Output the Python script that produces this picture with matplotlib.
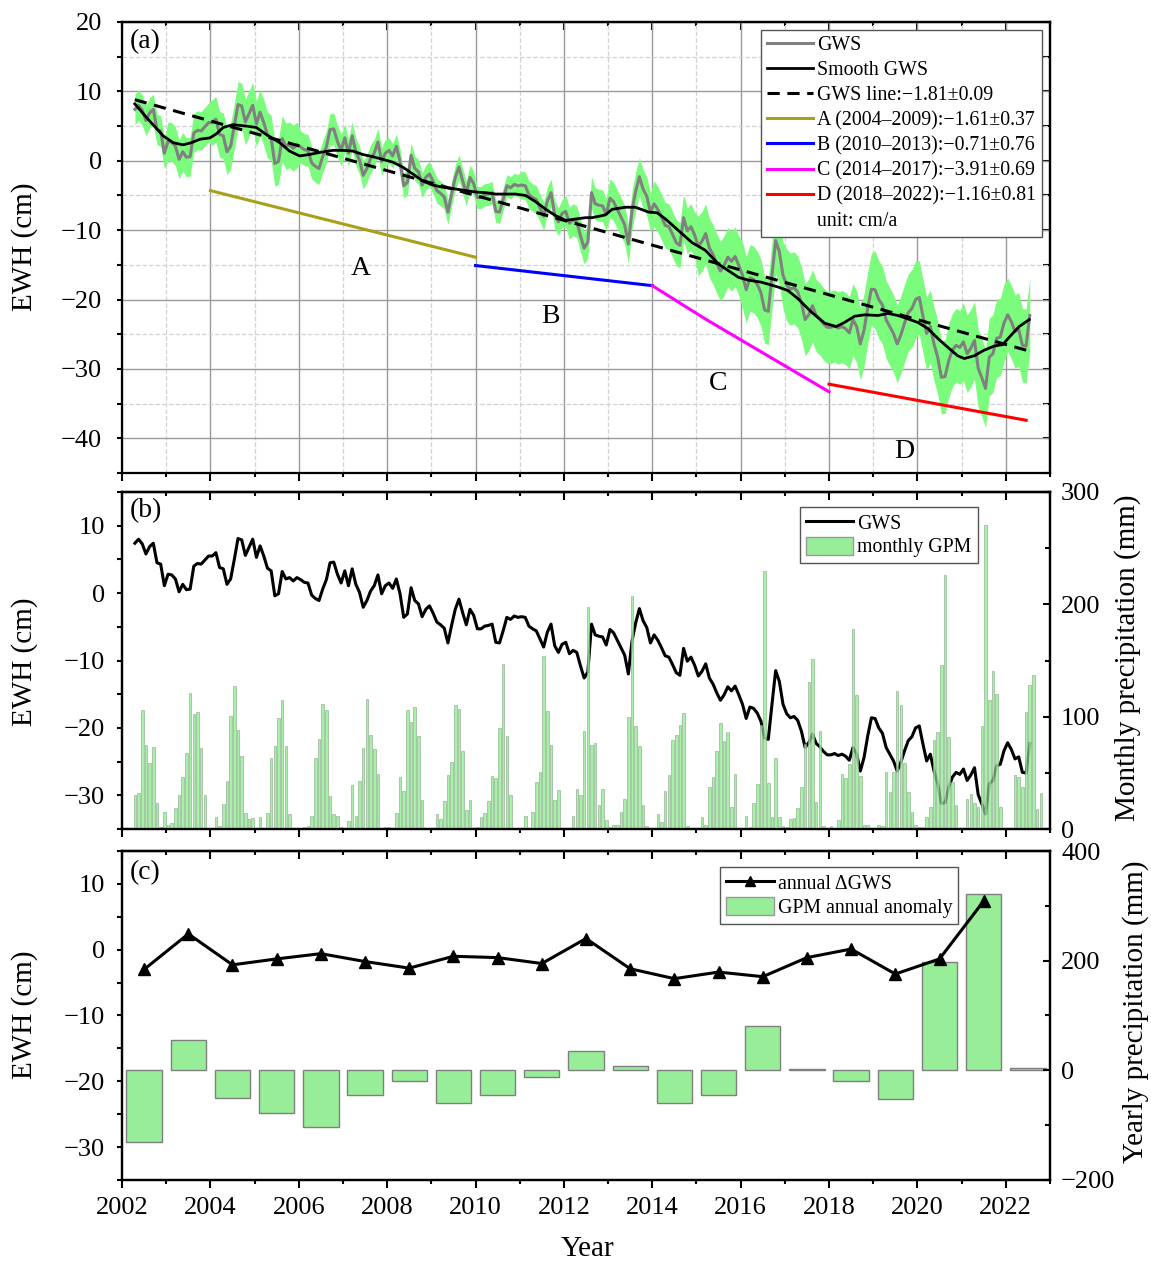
import numpy as np
import matplotlib
matplotlib.use("Agg")
import matplotlib.pyplot as plt
from matplotlib.lines import Line2D
from matplotlib.patches import Patch
from matplotlib.ticker import MultipleLocator

plt.rcParams["font.family"] = ["Liberation Serif", "DejaVu Serif"]

# ---------------- data ----------------
# monthly GWS (cm), starting mid-April 2002, one value per month
gws_start = 2002 + 3.5 / 12
gws = [
    7.4, 8.0, 7.3, 5.8, 6.9, 7.4, 4.5, 4.3, 1.1, 2.8,
    2.7, 2.1, 0.2, 1.3, 0.5, 0.6, 4.0, 4.4, 4.3, 4.9,
    5.5, 5.5, 6.0, 3.8, 3.6, 1.3, 2.1, 5.0, 8.1, 7.9,
    5.6, 6.8, 8.0, 5.3, 7.0, 5.5, 3.7, 3.3, -0.4, -0.1,
    3.2, 2.1, 2.3, 1.8, 2.3, 2.0, 1.6, 1.5, -0.3, -0.8, -1.1,
    0.6, 2.0, 4.5, 4.6, 2.8, 1.5, 3.3, 1.1, 3.6, 1.3,
    0.1, -2.1, -1.1, 0.3, 1.1, 2.7, -0.1, 1.1, 1.5, 0.7,
    2.1, -0.1, -3.6, -3.1, 0.8, -1.1, -1.6, -3.5, -2.4, -1.9,
    -3.0, -4.3, -4.7, -5.2, -7.4, -4.8, -2.4, -0.9, -2.9, -4.7,
    -2.4, -3.3, -5.3, -5.3, -4.9, -4.8, -4.6, -7.3, -7.4, -5.6, -3.6,
    -3.9, -3.4, -3.6, -3.5, -3.6, -4.9, -5.3, -5.6, -6.8, -8.0,
    -5.8, -4.6, -7.8, -8.8, -7.6, -7.3, -9.0, -8.5, -8.8, -10.8, -12.6, -11.7,
    -4.6, -6.2, -6.4, -6.5, -7.7, -5.4, -5.9, -7.0, -8.1, -9.2,
    -12.0, -7.1, -4.4, -2.3, -4.1, -5.1, -7.4, -6.2, -7.0, -8.1,
    -9.3, -9.5, -10.6, -11.8, -12.2, -8.2, -10.1, -9.5, -10.7, -12.3,
    -11.6, -10.5, -12.6, -13.5, -14.8, -15.9, -15.1, -13.9, -14.5, -13.8,
    -15.1, -16.5, -18.6, -16.9, -17.1, -17.8, -19.0, -21.5, -21.7, -16.5,
    -11.5, -13.1, -16.5, -17.9, -18.5, -18.3, -18.9, -20.5, -22.9, -22.2, -20.9,
    -22.3, -22.8, -23.5, -24.0, -24.0,
    -23.8, -24.1, -23.9, -24.2, -24.8, -22.9, -23.9, -26.4, -24.4, -21.2,
    -18.5, -18.6, -20.0, -20.8, -22.9, -23.9, -24.9, -26.4, -25.1, -23.4,
    -21.9, -21.3, -20.0, -19.7, -22.4, -24.9, -23.9, -26.4, -28.3, -31.2,
    -31.1, -28.8, -27.3, -26.6, -26.9, -26.1, -27.8, -27.0, -25.9, -29.9,
    -31.3, -32.8, -28.3, -27.8, -25.6, -25.4, -23.4, -22.2, -23.2, -24.6,
    -24.3, -26.6, -26.7, -22.3,
]
# spread of the GWS solutions (half width, cm), one value per year 2002..2022
band_hw = [2.2, 2.8, 3.3, 3.3, 2.3, 2.0, 1.8, 1.8, 1.6, 2.0, 2.3,
           2.8, 3.3, 4.3, 4.8, 5.2, 5.2, 5.6, 5.3, 5.6, 5.3]

smooth_year = [2002.29, 2002.56, 2002.93, 2003.16, 2003.38, 2003.57, 2003.76, 2003.99, 2004.14, 2004.29,
               2004.51, 2004.81, 2005.04, 2005.26, 2005.57, 2005.79, 2006.02, 2006.24, 2006.47, 2006.77,
               2006.99, 2007.22, 2007.45, 2007.67, 2007.90, 2008.13, 2008.35, 2008.58, 2008.80, 2009.03,
               2009.25, 2009.48, 2009.78, 2010.00, 2010.23, 2010.46, 2010.68, 2010.91, 2011.13, 2011.36,
               2011.59, 2011.81, 2012.04, 2012.26, 2012.49, 2012.64, 2012.94, 2013.09, 2013.39, 2013.62,
               2013.92, 2014.11, 2014.30, 2014.60, 2014.90, 2015.20, 2015.50, 2015.95, 2016.17, 2016.47,
               2016.85, 2017.07, 2017.30, 2017.60, 2017.90, 2018.16, 2018.35, 2018.58, 2018.81, 2019.11,
               2019.33, 2019.56, 2019.79, 2020.01, 2020.24, 2020.46, 2020.69, 2020.91, 2021.06, 2021.29,
               2021.51, 2021.74, 2021.93, 2022.11, 2022.30, 2022.53]
smooth_gws = [8.2, 6.2, 3.6, 2.6, 2.3, 2.6, 3.1, 3.3, 3.9, 4.8,
              5.2, 5.0, 4.8, 3.8, 2.6, 1.4, 0.7, 0.9, 1.2, 1.5,
              1.5, 1.4, 0.9, 0.6, 0.2, -0.2, -0.9, -1.9, -2.9, -3.5,
              -3.8, -4.0, -4.3, -4.5, -4.6, -4.8, -4.8, -4.8, -5.0, -5.9,
              -7.0, -7.9, -8.6, -8.4, -8.2, -8.2, -7.8, -7.0, -6.7, -6.7,
              -7.4, -7.5, -8.4, -10.1, -11.8, -12.9, -14.9, -16.8, -17.2, -17.5,
              -18.2, -18.7, -19.9, -21.8, -23.4, -23.9, -23.3, -22.4, -22.2, -22.3,
              -22.0, -22.3, -22.8, -23.3, -24.2, -25.6, -26.9, -28.1, -28.5, -28.1,
              -27.3, -26.7, -26.5, -25.2, -23.9, -22.9]

trend_year = [2002.29, 2022.46]
trend_gws = [8.8, -27.3]

seg_a_year, seg_a_gws = [2004.0, 2010.0], [-4.3, -13.9]
seg_b_year, seg_b_gws = [2010.0, 2014.0], [-15.1, -18.0]
seg_c_year, seg_c_gws = [2014.0, 2015.2, 2018.0], [-18.0, -22.8, -33.3]
seg_d_year, seg_d_gws = [2018.0, 2022.46], [-32.2, -37.4]

seg_labels = ["A", "B", "C", "D"]
seg_label_year = [2007.4, 2011.7, 2015.5, 2019.7]
seg_label_gws = [-15.5, -22.4, -32.1, -41.9]

# monthly GPM precipitation (mm), rows = 2002..2022, columns = Jan..Dec
nan = np.nan
gpm_monthly = [
    [nan, nan, nan, 30, 32, 106, 75, 59, 73, 23, 2, 15],
    [4, 5, 19, 30, 46, 68, 121, 102, 104, 72, 30, 1],
    [1, 11, 3, 22, 43, 101, 127, 88, 65, 14, 9, 10],
    [0, 11, 1, 14, 63, 74, 99, 115, 74, 13, 1, 1],
    [1, 2, 3, 12, 63, 80, 111, 106, 29, 13, 12, 2],
    [0, 7, 39, 12, 43, 72, 116, 84, 71, 49, 0, 2],
    [2, 1, 14, 46, 34, 106, 95, 109, 83, 26, 0, 0],
    [0, 13, 9, 25, 48, 60, 110, 107, 69, 17, 26, 0],
    [2, 11, 14, 25, 47, 45, 90, 147, 83, 30, 0, 0],
    [0, 12, 0, 15, 42, 51, 154, 105, 75, 26, 35, 1],
    [0, 0, 12, 36, 30, 87, 198, 75, 77, 21, 36, 8],
    [2, 4, 4, 15, 27, 100, 207, 92, 74, 21, 3, 0],
    [0, 13, 6, 34, 48, 79, 84, 93, 103, 3, 1, 0],
    [0, 11, 4, 37, 46, 69, 94, 78, 86, 20, 49, 1],
    [1, 12, 2, 23, 40, 93, 230, 41, 11, 63, 11, 3],
    [2, 9, 10, 19, 37, 76, 131, 151, 24, 87, 3, 1],
    [3, 0, 8, 49, 45, 58, 178, 119, 47, 4, 4, 1],
    [0, 4, 3, 51, 33, 51, 123, 110, 59, 33, 15, 4],
    [2, 2, 11, 20, 79, 86, 146, 226, 82, 42, 21, 1],
    [0, 27, 31, 23, 20, 92, 271, 115, 141, 120, 20, 1],
    [0, 1, 48, 46, 37, 104, 128, 137, 18, 32, nan, nan],
]

ann_year = list(range(2002, 2022))
ann_dgws = [-3.0, 2.4, -2.3, -1.4, -0.6, -1.8, -2.8, -1.0, -1.2, -2.1,
            1.7, -2.9, -4.4, -3.4, -4.1, -1.2, 0.1, -3.7, -1.4, 7.4]
anom_year = list(range(2002, 2023))
gpm_anom = [-131, 56, -50, -77, -104, -45, -19, -60, -45, -13, 36,
            7, -59, -45, 80, 3, -20, -53, 198, 322, 4]

# ---------------- figure ----------------
GREEN = "#98EE98"
BAND = "#7CFC7C"
TICK_FS = 19

fig = plt.figure(figsize=(11.51, 12.64), dpi=100)
L, W = 122 / 1151, 928 / 1151
ax_a = fig.add_axes([L, 1 - 473 / 1264, W, 451 / 1264])
ax_b = fig.add_axes([L, 1 - 829 / 1264, W, 337 / 1264])
ax_c = fig.add_axes([L, 1 - 1180 / 1264, W, 329 / 1264])


def style_main(ax, ylim, show_x, ypad=9):
    ax.set_xlim(2002, 2023)
    ax.set_ylim(*ylim)
    for s in ax.spines.values():
        s.set_linewidth(1.6)
    ax.xaxis.set_major_locator(MultipleLocator(2))
    ax.xaxis.set_minor_locator(MultipleLocator(1))
    ax.yaxis.set_major_locator(MultipleLocator(10))
    ax.yaxis.set_minor_locator(MultipleLocator(5))
    ax.tick_params(which="both", direction="out", top=False, right=False,
                   width=1.5, labelsize=TICK_FS, labelbottom=show_x)
    ax.tick_params(axis="x", which="major", length=6, pad=6)
    ax.tick_params(axis="x", which="minor", length=3)
    ax.tick_params(axis="y", which="both", length=3.5, pad=ypad)
    top = ax.secondary_xaxis("top")
    top.xaxis.set_major_locator(MultipleLocator(2))
    top.xaxis.set_minor_locator(MultipleLocator(1))
    top.tick_params(which="both", direction="in", labeltop=False, width=1.5)
    top.tick_params(which="major", length=6)
    top.tick_params(which="minor", length=3)
    top.spines["top"].set_linewidth(1.6)


def style_right(ax2, major, minor):
    ax2.yaxis.set_major_locator(MultipleLocator(major))
    ax2.yaxis.set_minor_locator(MultipleLocator(minor))
    ax2.tick_params(axis="y", which="both", direction="in", width=1.5,
                    labelsize=TICK_FS, pad=8)
    ax2.tick_params(axis="y", which="major", length=5)
    ax2.tick_params(axis="y", which="minor", length=3.5)
    for s in ax2.spines.values():
        s.set_linewidth(1.6)


LEG = dict(fancybox=False, framealpha=1, edgecolor="#555555", handletextpad=0.2,
           borderpad=0.3, borderaxespad=0)

# ---- (a) ----
style_main(ax_a, (-45, 20), False, ypad=11)
right_a = ax_a.secondary_yaxis("right")
right_a.yaxis.set_major_locator(MultipleLocator(5))
right_a.tick_params(direction="in", labelright=False, width=1.5, length=5)
right_a.spines["right"].set_linewidth(1.6)
ax_a.set_axisbelow(True)
ax_a.grid(which="major", color="#9a9a9a", lw=1.0, ls="-")
ax_a.grid(which="minor", color="#d2d2d2", lw=0.9, ls="--")

gws_arr = np.array(gws)
t_gws = gws_start + np.arange(gws_arr.size) / 12
hw = np.array(band_hw)[(t_gws - 2002).astype(int)]
ax_a.fill_between(t_gws, gws_arr - hw, gws_arr + hw, color=BAND, lw=0, zorder=1)
ax_a.plot(t_gws, gws_arr, color="#808080", lw=2.2, zorder=2)
ax_a.plot(smooth_year, smooth_gws, color="black", lw=2.0, zorder=3)
ax_a.plot(trend_year, trend_gws, color="black", lw=2.2, ls=(0, (4, 2.5)), zorder=3)
ax_a.plot(seg_a_year, seg_a_gws, color="#A8A018", lw=2.2)
ax_a.plot(seg_b_year, seg_b_gws, color="#0000FF", lw=2.2)
ax_a.plot(seg_c_year, seg_c_gws, color="#FF00FF", lw=2.2)
ax_a.plot(seg_d_year, seg_d_gws, color="#FF0000", lw=2.2)
for lab, x, y in zip(seg_labels, seg_label_year, seg_label_gws):
    ax_a.text(x, y, lab, fontsize=20, ha="center", va="center")
ax_a.text(0.008, 0.985, "(a)", transform=ax_a.transAxes, fontsize=20, va="top")

handles_a = [
    Line2D([], [], color="#808080", lw=2.2),
    Line2D([], [], color="black", lw=2.0),
    Line2D([], [], color="black", lw=2.2, ls=(0, (4, 2.5))),
    Line2D([], [], color="#A8A018", lw=2.2),
    Line2D([], [], color="#0000FF", lw=2.2),
    Line2D([], [], color="#FF00FF", lw=2.2),
    Line2D([], [], color="#FF0000", lw=2.2),
    Line2D([], [], color="none"),
]
labels_a = ["GWS", "Smooth GWS", "GWS line:\u22121.81\u00b10.09",
            "A (2004\u20132009):\u22121.61\u00b10.37",
            "B (2010\u20132013):\u22120.71\u00b10.76",
            "C (2014\u20132017):\u22123.91\u00b10.69",
            "D (2018\u20132022):\u22121.16\u00b10.81",
            "unit: cm/a"]
leg = ax_a.legend(handles_a, labels_a, loc="upper right", bbox_to_anchor=(0.991, 0.982),
                  fontsize=14.3, handlelength=2.3, labelspacing=0.3, **LEG)
leg.get_frame().set_linewidth(1.0)

# ---- (b) ----
style_main(ax_b, (-35, 15), False)
ax_b.plot(t_gws, gws_arr, color="black", lw=2.2)
ax_b.text(0.008, 0.982, "(b)", transform=ax_b.transAxes, fontsize=20, va="top")
ax_b2 = ax_b.twinx()
ax_b2.set_ylim(0, 300)
style_right(ax_b2, 100, 50)
gpm = np.array(gpm_monthly, dtype=float).ravel()
t_month = 2002 + (np.arange(gpm.size) + 0.5) / 12
ok = ~np.isnan(gpm)
ax_b2.bar(t_month[ok], gpm[ok], width=0.7 / 12, color=GREEN, alpha=0.85,
          edgecolor="#8aaa8a", linewidth=0.5)
leg_b = ax_b2.legend([Line2D([], [], color="black", lw=2.2), Patch(facecolor=GREEN, edgecolor="#999999")],
                     ["GWS", "monthly GPM"], loc="upper right", bbox_to_anchor=(0.922, 0.955),
                     fontsize=14.3, handlelength=2.4, handleheight=1.0, labelspacing=0.15, **LEG)
leg_b.get_frame().set_linewidth(1.0)

# ---- (c) ----
style_main(ax_c, (-35, 15), True)
ax_c2 = ax_c.twinx()
ax_c2.set_ylim(-200, 400)
style_right(ax_c2, 200, 100)
ax_c2.bar(np.array(anom_year) + 0.5, gpm_anom, width=0.8, color=GREEN,
          edgecolor="#7f7f7f", linewidth=1.0)
ax_c.set_zorder(ax_c2.get_zorder() + 1)
ax_c.patch.set_visible(False)
ax_c.plot(np.array(ann_year) + 0.5, ann_dgws, color="black", lw=2.2,
          marker="^", markersize=8)
ax_c.text(0.008, 0.973, "(c)", transform=ax_c.transAxes, fontsize=20, va="top")
leg_c = ax_c.legend([Line2D([], [], color="black", lw=2.2, marker="^", markersize=7),
                     Patch(facecolor=GREEN, edgecolor="#999999")],
                    ["annual \u0394GWS", "GPM annual anomaly"], loc="upper right",
                    bbox_to_anchor=(0.901, 0.95), fontsize=14.3, handlelength=2.4,
                    handleheight=1.0, labelspacing=0.15, **LEG)
leg_c.get_frame().set_linewidth(1.0)

# ---- axis titles ----
for yc in (247, 662, 1015):
    fig.text(25 / 1151, 1 - yc / 1264, "EWH (cm)", rotation=90, ha="center",
             va="center", fontsize=21)
fig.text(1128 / 1151, 1 - 658 / 1264, "Monthly precipitation (mm)", rotation=90,
         ha="center", va="center", fontsize=21)
fig.text(1136 / 1151, 1 - 1012 / 1264, "Yearly precipitation (mm)", rotation=90,
         ha="center", va="center", fontsize=21)
fig.text(588 / 1151, 1 - 1249 / 1264, "Year", ha="center", va="center", fontsize=21)

fig.savefig("out.png", dpi=100)
